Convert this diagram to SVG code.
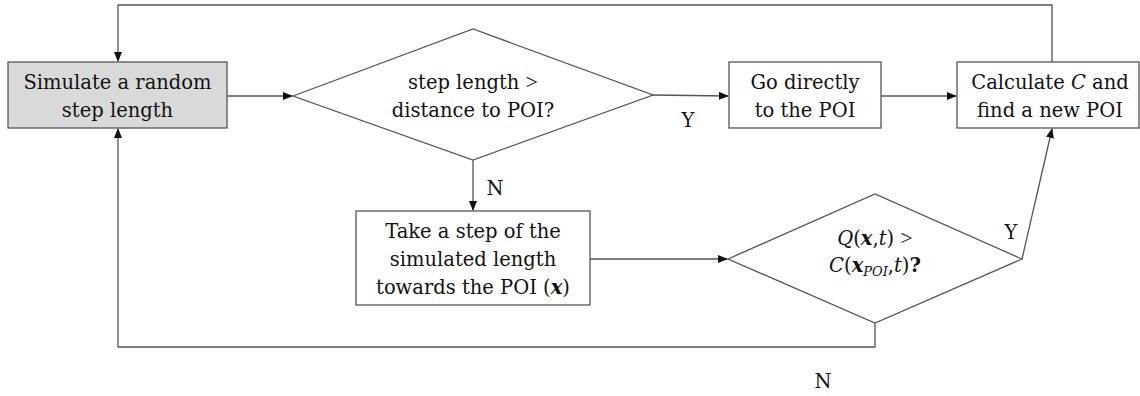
<svg xmlns="http://www.w3.org/2000/svg" width="1140" height="396" viewBox="0 0 1140 396">
<style>
text{font-family:"DejaVu Serif","Liberation Serif",serif;font-size:19.5px;fill:#111;text-anchor:middle}
.box{fill:#fff;stroke:#555;stroke-width:1.3}
.grey{fill:#d9d9d9}
.ln{fill:none;stroke:#555;stroke-width:1.3}
.it{font-style:italic}
.bi{font-style:italic;font-weight:bold}
.sub{font-size:13px}
.gt{font-family:"Liberation Serif",serif;font-size:22px}
</style>
<defs>
<marker id="ah" markerWidth="10" markerHeight="8" refX="9" refY="4" orient="auto" markerUnits="userSpaceOnUse">
<path d="M0,0 L10,4 L0,8 z" fill="#111"/>
</marker>
</defs>
<rect width="1140" height="396" fill="#fff"/>
<g id="connectors">
<polyline class="ln" points="1052,62 1052,5 118,5 118,61" marker-end="url(#ah)"/>
<line class="ln" x1="227" y1="96" x2="292" y2="96" marker-end="url(#ah)"/>
<line class="ln" x1="653" y1="95" x2="728" y2="96" marker-end="url(#ah)"/>
<line class="ln" x1="881" y1="96" x2="956" y2="96" marker-end="url(#ah)"/>
<line class="ln" x1="473" y1="160" x2="473" y2="210" marker-end="url(#ah)"/>
<line class="ln" x1="590" y1="259" x2="727" y2="259" marker-end="url(#ah)"/>
<line class="ln" x1="1022" y1="259" x2="1052" y2="129" marker-end="url(#ah)"/>
<polyline class="ln" points="875,323 875,347 118,347 118,129" marker-end="url(#ah)"/>
<text x="688" y="127">Y</text>
<text x="495" y="195">N</text>
<text x="1011" y="239">Y</text>
<text x="823" y="388">N</text>
</g>
<g id="simulate">
<rect class="box grey" x="8" y="62" width="219" height="66"/>
<text x="117.5" y="89">Simulate a random</text>
<text x="117.5" y="117">step length</text>
</g>
<g id="decision1">
<polygon class="box" points="293,96 473,29 653,95 473,160"/>
<text x="473" y="89">step length <tspan class="gt">&gt;</tspan></text>
<text x="473" y="117">distance to POI?</text>
</g>
<g id="godirect">
<rect class="box" x="729" y="62" width="152" height="66"/>
<text x="805" y="89">Go directly</text>
<text x="805" y="117">to the POI</text>
</g>
<g id="calculate">
<rect class="box" x="957" y="62" width="182" height="66"/>
<text x="1050" y="89">Calculate <tspan class="it">C</tspan> and</text>
<text x="1050" y="117">find a new POI</text>
</g>
<g id="takestep">
<rect class="box" x="356" y="211" width="234" height="94"/>
<text x="473" y="238">Take a step of the</text>
<text x="473" y="266">simulated length</text>
<text x="473" y="294">towards the POI (<tspan class="bi">x</tspan>)</text>
</g>
<g id="decision2">
<polygon class="box" points="728,259 875,194 1022,259 875,323"/>
<text x="875" y="245"><tspan class="it">Q</tspan>(<tspan class="bi">x</tspan>,<tspan class="it">t</tspan>) <tspan class="gt">&gt;</tspan></text>
<text x="875" y="272"><tspan class="it">C</tspan>(<tspan class="bi">x</tspan><tspan class="it sub" dy="4">POI</tspan><tspan dy="-4">,</tspan><tspan class="it">t</tspan>)<tspan font-weight="bold">?</tspan></text>
</g>
</svg>
